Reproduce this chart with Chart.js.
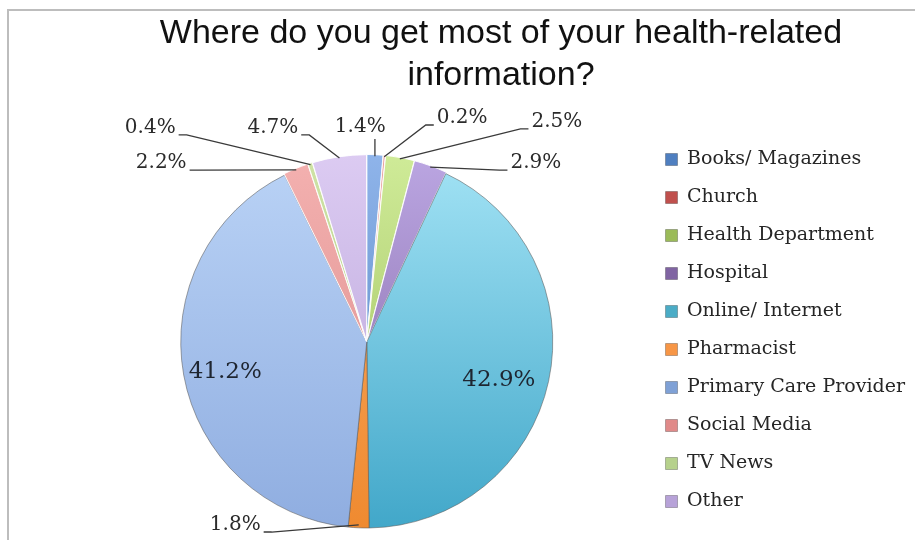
<!DOCTYPE html>
<html>
<head>
<meta charset="utf-8">
<script src="https://cdn.jsdelivr.net/npm/chart.js@4.4.1/dist/chart.umd.min.js"></script>
<style>
  html, body { margin: 0; padding: 0; background: #fff; }
</style>
</head>
<body>
<canvas id="myChart" width="915" height="540"></canvas>
<script>
const categories = ['Books/ Magazines', 'Church', 'Health Department', 'Hospital', 'Online/ Internet',
  'Pharmacist', 'Primary Care Provider', 'Social Media', 'TV News', 'Other'];
const shares = [1.4, 0.2, 2.5, 2.9, 42.9, 1.8, 41.2, 2.2, 0.4, 4.7];
const titleLines = ['Where do you get most of your health-related', 'information?'];

// slice shading, light at the top of the pie, darker at the bottom
const topColors = ['#8fb4ea', '#eaa3a1', '#cfeb98', '#bba6e2', '#a3e3f5', '#fbab62', '#bad3f6', '#f4b1b0', '#cfe3a6', '#dccbf2'];
const bottomColors = ['#4f81bd', '#c0504d', '#9bbb59', '#8064a2', '#41a7c9', '#ef8a30', '#8fade0', '#d98a89', '#a9c47a', '#b5a0d6'];
const legendColors = ['#4f7fc0', '#c0504d', '#9bbb59', '#8064a2', '#4bacc6', '#f79646', '#7fa1d6', '#e08a89', '#b6d18c', '#b7a2d8'];

// where each % label sits, measured in pie radii from the centre
const labelSpots = [[-0.035, -1.156], [0.513, -1.204], [1.022, -1.183], [0.909, -0.962], [0.71, 0.204],
  [-0.707, 0.984], [-0.761, 0.161], [-1.105, -0.962], [-1.164, -1.151], [-0.505, -1.151]];
const hasLeader = [true, true, true, true, false, true, false, true, true, true];
const explode = [3, 3, 3, 3, 0, 0, 0, 3, 3, 3];

const frame = {
  id: 'frame',
  beforeDraw(chart) {
    const ctx = chart.ctx;
    ctx.save();
    ctx.strokeStyle = '#bdbdbd';
    ctx.lineWidth = 2;
    ctx.beginPath();
    ctx.moveTo(8, 540);
    ctx.lineTo(8, 10);
    ctx.lineTo(915, 10);
    ctx.stroke();
    ctx.restore();
  }
};

const pctLabels = {
  id: 'pctLabels',
  afterDatasetsDraw(chart) {
    const ctx = chart.ctx;
    const arcs = chart.getDatasetMeta(0).data;
    ctx.save();
    ctx.textAlign = 'center';
    ctx.textBaseline = 'middle';
    arcs.forEach((arc, i) => {
      const {x, y, startAngle, endAngle, outerRadius} =
        arc.getProps(['x', 'y', 'startAngle', 'endAngle', 'outerRadius'], true);
      const mid = (startAngle + endAngle) / 2;
      const text = shares[i].toFixed(1) + '%';
      const tx = x + labelSpots[i][0] * outerRadius;
      const ty = y + labelSpots[i][1] * outerRadius;
      if (!hasLeader[i]) {
        ctx.font = '23px "DejaVu Serif", serif';
        ctx.fillStyle = '#1e2530';
        ctx.fillText(text, tx, ty);
        return;
      }
      ctx.font = '20px "DejaVu Serif", serif';
      ctx.fillStyle = '#2b2b2b';
      const w = ctx.measureText(text).width;
      ctx.fillText(text, tx, ty);

      const r = outerRadius - 3 + explode[i];
      const ax = x + Math.cos(mid) * r;
      const ay = y + Math.sin(mid) * r;
      ctx.strokeStyle = '#3a3a3a';
      ctx.lineWidth = 1.3;
      ctx.beginPath();
      if (Math.abs(ax - tx) < w / 2) {
        ctx.moveTo(ax, ty + 12);
        ctx.lineTo(ax, ay);
      } else {
        const side = ax > tx ? 1 : -1;
        const sx = tx + side * (w / 2 + 3);
        const sy = ty + 7;
        ctx.moveTo(sx, sy);
        ctx.lineTo(sx + side * 8, sy);
        ctx.lineTo(ax, ay);
      }
      ctx.stroke();
    });
    ctx.restore();
  }
};

const ctx = document.getElementById('myChart');

new Chart(ctx, {
  type: 'pie',
  data: {
    labels: categories,
    datasets: [{
      data: shares,
      backgroundColor: (c) => {
        const area = c.chart.chartArea;
        if (!area) return bottomColors[c.dataIndex];
        const g = c.chart.ctx.createLinearGradient(0, area.top, 0, area.bottom);
        g.addColorStop(0, topColors[c.dataIndex]);
        g.addColorStop(1, bottomColors[c.dataIndex]);
        return g;
      },
      borderColor: explode.map(o => o ? 'rgba(255,255,255,0.9)' : 'rgba(90,90,90,0.55)'),
      borderWidth: 1,
      offset: explode,
      hoverOffset: 0
    }]
  },
  options: {
    responsive: false,
    animation: false,
    layout: { padding: { left: 87, right: 0, top: 0, bottom: 10 } },
    plugins: {
      title: {
        display: true,
        text: titleLines,
        color: '#111',
        font: { family: '"Liberation Sans", Arial, sans-serif', size: 34, weight: 'normal', lineHeight: 1.22 },
        padding: { top: 13, bottom: 58 }
      },
      legend: {
        position: 'right',
        align: 'end',
        labels: {
          color: '#262626',
          font: { family: '"DejaVu Serif", serif', size: 19, lineHeight: 1 },
          boxWidth: 12,
          boxHeight: 12,
          padding: 19,
          generateLabels: () => categories.map((c, i) => ({
            text: c,
            fillStyle: legendColors[i],
            strokeStyle: 'rgba(0,0,0,0.25)',
            lineWidth: 1,
            fontColor: '#262626',
            hidden: false,
            index: i
          }))
        }
      },
      tooltip: { enabled: false }
    }
  },
  plugins: [frame, pctLabels]
});
</script>
</body>
</html>
